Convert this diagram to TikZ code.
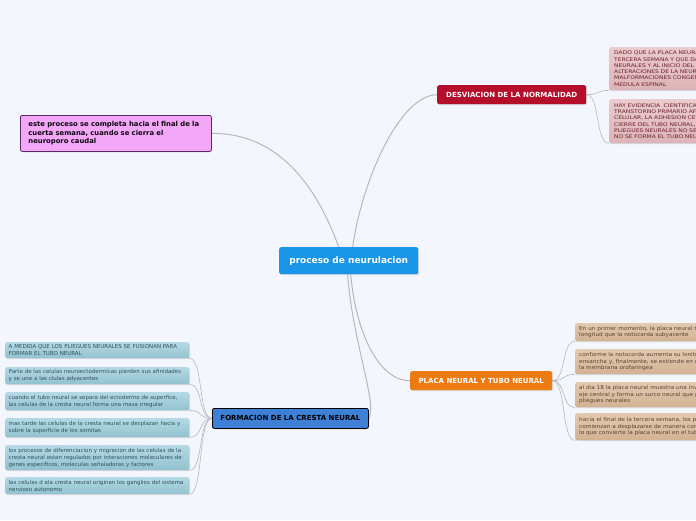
\documentclass[tikz,border=0pt]{standalone}
\usepackage{fontspec}
\setmainfont{DejaVu Sans}
\newfontfamily\widefont[FakeStretch=1.2]{DejaVu Sans}
\newfontfamily\semiwide[FakeStretch=1.08]{DejaVu Sans}
\usetikzlibrary{shadows,backgrounds}
\definecolor{bg}{HTML}{F3F6FD}
\definecolor{cblue}{HTML}{1A96E8}
\definecolor{cred}{HTML}{B50E2A}
\definecolor{corange}{HTML}{EE7B12}
\definecolor{cform}{HTML}{3D80D6}
\definecolor{cpink}{HTML}{F2A8F6}
\definecolor{cpinkd}{HTML}{5C2A63}
\definecolor{rtA}{HTML}{EACBCE}
\definecolor{rtB}{HTML}{DDB4B8}
\definecolor{rtT}{HTML}{6E1F2E}
\definecolor{rbA}{HTML}{E3C9B0}
\definecolor{rbB}{HTML}{D3B293}
\definecolor{rbT}{HTML}{5B4535}
\definecolor{lbA}{HTML}{B4D9E4}
\definecolor{lbB}{HTML}{92C2CF}
\definecolor{lbT}{HTML}{30525E}
\definecolor{conn}{HTML}{B4B8C4}
\tikzset{
  base/.style={anchor=north west, rounded corners=2pt, inner ysep=1pt,
    drop shadow={opacity=0.25, shadow xshift=0.8pt, shadow yshift=-0.9pt}},
  mainbox/.style={base, align=center, text=white, inner xsep=2pt},
  centre/.style={mainbox, fill=cblue, font=\fontsize{9}{11}\selectfont\bfseries},
  desv/.style={mainbox, fill=cred, font=\fontsize{7.05}{8}\selectfont\bfseries},
  placa/.style={mainbox, fill=corange, font=\fontsize{7}{8}\selectfont\bfseries},
  formbox/.style={mainbox, fill=cform, draw=black, line width=0.8pt, text=black,
    font=\fontsize{7}{8}\selectfont\bfseries},
  pinkbox/.style={base, fill=cpink, draw=cpinkd, line width=0.8pt, align=left,
    text=black!85!cpinkd, inner xsep=8pt, text width=175pt,
    font=\fontsize{6.85}{8.3}\selectfont\bfseries},
  rtbox/.style={base, top color=rtA, bottom color=rtB, align=left, text=rtT,
    inner xsep=5pt, text width=230pt, font=\widefont\fontsize{5.0}{6.25}\selectfont},
  rbbox/.style={base, top color=rbA, bottom color=rbB, align=left, text=rbT,
    inner xsep=4pt, text width=240pt, font=\semiwide\fontsize{5.35}{6.6}\selectfont},
  lbbox/.style={base, top color=lbA, bottom color=lbB, align=left, text=lbT,
    inner xsep=3.5pt, text width=177pt, font=\fontsize{5.5}{7}\selectfont},
  mainconn/.style={draw=conn, line width=1pt},
  subconn/.style={draw=conn, line width=0.6pt}
}
\begin{document}
\begin{tikzpicture}[x=1pt,y=-1pt]
\useasboundingbox (0,0) rectangle (696,520);
\clip (0,0) rectangle (696,520);

% main nodes
\node[centre, minimum width=139pt, minimum height=27pt] (c) at (279,247) {proceso de neurulacion};
\node[desv, minimum width=149pt, minimum height=19pt] (d) at (437,85) {DESVIACION DE LA NORMALIDAD};
\node[placa, minimum width=142pt, minimum height=19pt] (pl) at (410,371) {PLACA NEURAL Y TUBO NEURAL};
\node[formbox, minimum width=156pt, minimum height=20pt] (f) at (212,408) {FORMACION DE LA CRESTA NEURAL};
\node[pinkbox, minimum height=36pt] (p) at (20,115) {este proceso se completa hacia el final de la\\cuerta semana, cuando se cierra el\\neuroporo caudal};

% right top
\node[rtbox, minimum height=43pt] (r1) at (609,47) {DADO QUE LA PLACA NEURAL SE FORMA EN LA\\TERCERA SEMANA Y QUE DA ORIGEN A LOS PLIEGUES\\NEURALES Y AL INICIO DEL TUBO NEURAL, LAS\\ALTERACIONES DE LA NEURULACION PUEDEN CAUSAR\\MALFORMACIONES CONGENITAS DEL ENCEFALO Y LA\\MEDULA ESPINAL};
\node[rtbox, minimum height=44pt] (r2) at (609,99) {HAY EVIDENCIA \ CIENTIFICA QUE INDICA QUE EL\\TRANSTORNO PRIMARIO AFECTA LA PROLIFERACION\\CELULAR, LA ADHESION CELULAR Y EL\\CIERRE DEL TUBO NEURAL, PORQUE LOS\\PLIEGUES NEURALES NO SE FUSIONAN Y\\NO SE FORMA EL TUBO NEURAL};

% right bottom
\node[rbbox, minimum height=18pt] (b1) at (575,323) {En un primer momento, la placa neural tiene la misma\\longitud que la notocarda subyacente};
\node[rbbox, minimum height=25pt] (b2) at (575,349) {conforme la notocorda aumenta su lonitud, la placa se\\ensancha y, finalmente, se extiende en direccion craneal\\la membrana orofaringea};
\node[rbbox, minimum height=25pt] (b3) at (575,382) {al dia 18 la placa neural muestra una invaginacion a lo largo\\eje central y forma un surco neural que presenta a cada lado\\pliegues neurales};
\node[rbbox, minimum height=27pt] (b4) at (575,413) {hacia el final de la tercera semana, los pliegues neurales\\comienzan a desplazarse de manera conjunta en la linea\\lo que convierte la placa neural en el tubo neural};

% left bottom
\node[lbbox, minimum height=16pt] (l1) at (5,342) {A MEDIDA QUE LOS PLIEGUES NEURALES SE FUSIONAN PARA\\FORMAR EL TUBO NEURAL};
\node[lbbox, minimum height=17pt] (l2) at (5,367) {Parte de las celulas neuroectodermicas pierden sus afinidades\\y se une a las clulas adyacentes};
\node[lbbox, minimum height=18pt] (l3) at (5,392) {cuando el tubo neural se separa del ectodermo de superfice,\\las celulas de la cresta neural forma una masa irregular};
\node[lbbox, minimum height=19pt] (l4) at (5,418) {mas tarde las celulas de la cresta neural se desplazan hacia y\\sobre la superficie de los somitas};
\node[lbbox, minimum height=25pt] (l5) at (5,445) {los procesos de diferenciacion y migracion de las celulas de la\\cresta neural estan regulados por interaciones moleculares de\\genes especificos, moleculas se\~naladoras y factores};
\node[lbbox, minimum height=17pt] (l6) at (5,477) {las celulas d ela cresta neural originan los ganglios del sistema\\nervioso autonomo};

\begin{pgfonlayer}{background}
\fill[bg] (0,0) rectangle (696,520);
% main connectors
\draw[mainconn] ([xshift=-10pt]c.north) .. controls (318,190) and (281,133) .. (p.east);
\draw[mainconn] ([xshift=4pt]c.north) .. controls (362,180) and (400,95) .. (d.west);
\draw[mainconn] ([xshift=2pt]c.south) .. controls (356,335) and (380,381) .. (pl.west);
\draw[mainconn] ([xshift=-1pt]c.south) .. controls (352,340) and (378,405) .. (f.east);
% sub connectors
\foreach \n in {r1,r2}
  \draw[subconn] (d.east) .. controls +(14,0) and +(-14,0) .. (\n.south west);
\foreach \n in {b1,b2,b3,b4}
  \draw[subconn] (pl.east) .. controls +(14,0) and +(-14,0) .. (\n.south west);
\foreach \n in {l1,l2,l3,l4,l5,l6}
  \draw[subconn] (f.west) .. controls +(-14,0) and +(14,0) .. (\n.south east);
\end{pgfonlayer}
\end{tikzpicture}
\end{document}
